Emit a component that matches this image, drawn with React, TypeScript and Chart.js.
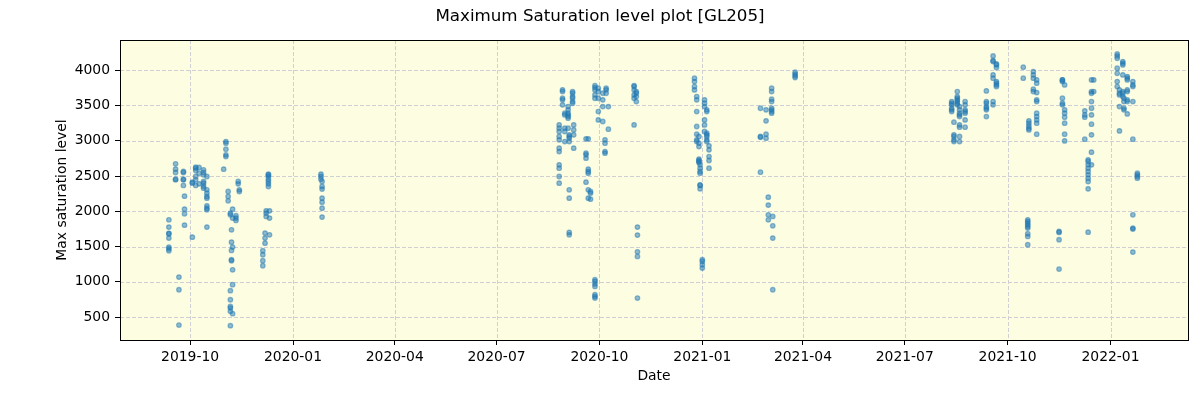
import React, { useEffect, useRef } from "react";
import { Chart, registerables } from "chart.js";

Chart.register(...registerables);

const TITLE = "Maximum Saturation level plot [GL205]";
const X_LABEL = "Date";
const Y_LABEL = "Max saturation level";

const X_MIN_DATE = "2019-07-30";
const X_MAX_DATE = "2022-03-11";
const Y_MIN = 174;
const Y_MAX = 4429;
const Y_TICKS = [500, 1000, 1500, 2000, 2500, 3000, 3500, 4000];
const X_TICK_DATES = [
  "2019-10-01", "2020-01-01", "2020-04-01", "2020-07-01", "2020-10-01",
  "2021-01-01", "2021-04-01", "2021-07-01", "2021-10-01", "2022-01-01",
];

type Night = [string, number[]];

const season2019: Night[] = [
  ["2019-09-12", [1879, 1775, 1685, 1681, 1619, 1492, 1468, 1440]],
  ["2019-09-18", [2673, 2597, 2550, 2455, 2446]],
  ["2019-09-21", [1066, 887, 386]],
  ["2019-09-25", [2564, 2550, 2446, 2455, 2366]],
  ["2019-09-26", [2214, 2030, 1964, 1803]],
  ["2019-10-03", [1633, 2399, 2413]],
  ["2019-10-06", [2625, 2611, 2578, 2493, 2446, 2366]],
  ["2019-10-09", [2621, 2540, 2389]],
  ["2019-10-13", [2588, 2550, 2517, 2422, 2399, 2355, 2328]],
  ["2019-10-16", [2493, 2304, 2257, 2210, 2186, 2077, 2044, 2021, 1775]],
  ["2019-10-31", [2597]],
  ["2019-11-02", [2989, 2965, 2880, 2800, 2776]],
  ["2019-11-04", [2280, 2210, 2148]],
  ["2019-11-06", [1973, 1950, 873, 745, 650, 627, 580, 377]],
  ["2019-11-07", [1737, 1562, 1444, 1312, 1298]],
  ["2019-11-08", [2030, 1903, 1492, 1170, 958, 547]],
  ["2019-11-11", [1936, 1903, 1870]],
  ["2019-11-13", [2422, 2389]],
  ["2019-11-14", [2304, 2280]],
  ["2019-12-05", [1440, 1383, 1298, 1227]],
  ["2019-12-07", [1690, 1619, 1548]],
  ["2019-12-08", [2006, 1973, 1926]],
  ["2019-12-10", [2526, 2517, 2493, 2455, 2422, 2389, 2351]],
  ["2019-12-11", [2006, 1903, 1666]],
  ["2020-01-26", [2526, 2493, 2455]],
  ["2020-01-27", [2422, 2351, 2314, 2186, 2129, 2044, 1917]],
];

const season2020: Night[] = [
  ["2020-08-26", [3225, 3178, 3131, 3060, 3013, 2895, 2847, 2658, 2611, 2493, 2399]],
  ["2020-08-29", [3721, 3698, 3603, 3580, 3509]],
  ["2020-08-31", [3391, 3367, 3178, 3131, 2989]],
  ["2020-09-03", [3485, 3438, 3391, 3367, 3343, 3320, 3178]],
  ["2020-09-04", [3084, 3060, 3036, 2989, 2304, 2186, 1700, 1666]],
  ["2020-09-07", [3698, 3674, 3627, 3603, 3556, 3532]],
  ["2020-09-08", [3225, 3154, 3084, 2895]],
  ["2020-09-19", [3027, 2824, 2800, 2753, 2413]],
  ["2020-09-21", [3027, 2597, 2564, 2540, 2304, 2186]],
  ["2020-09-23", [2280, 2257, 2172]],
  ["2020-09-27", [3783, 3754, 3721, 3650, 3603, 1029, 1005, 967, 934, 816, 792, 769]],
  ["2020-09-30", [3745, 3698, 3603, 3414, 3296]],
  ["2020-10-04", [3674, 3580, 3485, 3273]],
  ["2020-10-06", [3013, 2965, 2847, 2824]],
  ["2020-10-07", [3745, 3721, 3674]],
  ["2020-10-09", [3485, 3164]],
  ["2020-11-01", [3783, 3769, 3721, 3650, 3603, 3225]],
  ["2020-11-03", [3698, 3674, 3627, 3556]],
  ["2020-11-04", [1775, 1662, 1425, 1359, 769]],
  ["2020-12-25", [3887, 3839, 3769, 3721]],
  ["2020-12-27", [3627, 3580, 3414, 3202, 3093, 3013, 2989]],
  ["2020-12-29", [3060, 2965, 2918, 2739, 2720, 2706, 2691]],
  ["2020-12-30", [2658, 2611, 2564, 2540, 2375, 2366, 2318]],
  ["2021-01-01", [1312, 1288, 1241, 1194]],
  ["2021-01-03", [3580, 3532, 3485, 3296, 3225, 3131]],
  ["2021-01-05", [3438, 3414, 3107, 3084, 3060, 3013, 2989]],
  ["2021-01-07", [2928, 2871, 2776, 2720, 2611]],
  ["2021-02-22", [3461, 3060, 3050, 2554]],
  ["2021-02-27", [3438, 3282, 3093, 3036]],
  ["2021-03-01", [2200, 2087, 1950, 1879]],
  ["2021-03-04", [3745, 3698, 3589, 3556, 3461, 3438, 3414, 3391]],
  ["2021-03-05", [1926, 1794, 1619, 887]],
  ["2021-03-25", [3972, 3943, 3920, 3896]],
];

const season2021: Night[] = [
  ["2021-08-12", [3556, 3532, 3509, 3461, 3438, 3414]],
  ["2021-08-14", [3263, 3084, 3060, 3013, 2989]],
  ["2021-08-17", [3698, 3627, 3603, 3580, 3556, 3532, 3509]],
  ["2021-08-19", [3485, 3438, 3391, 3367, 3343, 3225, 3192, 3060, 2989]],
  ["2021-08-24", [3556, 3509, 3438, 3414, 3391, 3296, 3192]],
  ["2021-09-12", [3707, 3556, 3532, 3485, 3461, 3438, 3343]],
  ["2021-09-18", [4203, 4137, 4123, 3934, 3887, 3556, 3509]],
  ["2021-09-21", [4090, 4076, 4038, 3839, 3816, 3792, 3769]],
  ["2021-10-15", [4043, 3887]],
  ["2021-10-19", [1879, 1855, 1832, 1808, 1784, 1761, 1681, 1643, 1525]],
  ["2021-10-20", [3282, 3249, 3211, 3178, 3154]],
  ["2021-10-24", [3981, 3934, 3887, 3731, 3698]],
  ["2021-10-27", [3863, 3816, 3683, 3580, 3556, 3391, 3343, 3296, 3249, 3093]],
  ["2021-11-16", [1714, 1700, 1596, 1180]],
  ["2021-11-19", [3863, 3863, 3839, 3603, 3532, 3509]],
  ["2021-11-21", [3792, 3438, 3391, 3334, 3249, 3093, 2998]],
  ["2021-12-09", [3424, 3367, 3334, 3022]],
  ["2021-12-12", [2729, 2706, 2658, 2611, 2564, 2517, 2469, 2422, 2318, 1704]],
  ["2021-12-15", [3863, 3698, 3674, 3556, 3461, 3367, 3235, 3084, 2838, 2658]],
  ["2021-12-17", [3863, 3698]],
  ["2022-01-07", [4231, 4203, 4170, 4028, 3957, 3839, 3769]],
  ["2022-01-09", [3721, 3674, 3650, 3485, 3140]],
  ["2022-01-12", [4123, 4099, 4076, 3934, 3698, 3674, 3627]],
  ["2022-01-13", [3603, 3556, 3461, 3438]],
  ["2022-01-16", [3910, 3887, 3863, 3721, 3698, 3580, 3556, 3381]],
  ["2022-01-21", [3839, 3792, 3769, 3556, 3022, 1950, 1761, 1747, 1421]],
  ["2022-01-25", [2540, 2517, 2493, 2469]],
];

const FONT = "'DejaVu Sans', 'Liberation Sans', sans-serif";
const POINT_COLOR = "rgba(31, 119, 180, 0.5)";
const PLOT_BG = "#fdfde2";
const GRID_COLOR = "#cfcfd4";

function toDay(s: string): number {
  const [y, m, d] = s.split("-").map(Number);
  return Date.UTC(y, m - 1, d) / 86400000;
}

function dayLabel(v: number): string {
  const dt = new Date(Math.round(v) * 86400000);
  const y = dt.getUTCFullYear();
  const m = String(dt.getUTCMonth() + 1).padStart(2, "0");
  return `${y}-${m}`;
}

const points = [...season2019, ...season2020, ...season2021].flatMap(([date, vals]) =>
  vals.map((v) => ({ x: toDay(date), y: v }))
);

const decorPlugin = {
  id: "decor",
  beforeDatasetsDraw(chart: any) {
    const { ctx, chartArea: a, scales } = chart;
    ctx.save();
    ctx.fillStyle = PLOT_BG;
    ctx.fillRect(a.left, a.top, a.right - a.left, a.bottom - a.top);
    ctx.strokeStyle = GRID_COLOR;
    ctx.lineWidth = 1;
    ctx.setLineDash([4, 2]);
    for (const t of scales.x.ticks) {
      const px = Math.round(scales.x.getPixelForValue(t.value)) + 0.5;
      ctx.beginPath();
      ctx.moveTo(px, a.top);
      ctx.lineTo(px, a.bottom);
      ctx.stroke();
    }
    for (const t of scales.y.ticks) {
      const py = Math.round(scales.y.getPixelForValue(t.value)) + 0.5;
      ctx.beginPath();
      ctx.moveTo(a.left, py);
      ctx.lineTo(a.right, py);
      ctx.stroke();
    }
    ctx.restore();
  },
  afterDatasetsDraw(chart: any) {
    const { ctx, chartArea: a } = chart;
    ctx.save();
    ctx.strokeStyle = "#000";
    ctx.lineWidth = 1;
    ctx.strokeRect(Math.round(a.left) + 0.5, Math.round(a.top) + 0.5, Math.round(a.right - a.left), Math.round(a.bottom - a.top));
    ctx.fillStyle = "#000";
    ctx.font = `16.7px ${FONT}`;
    ctx.textAlign = "center";
    ctx.textBaseline = "middle";
    ctx.fillText(TITLE, 600, 17);
    ctx.restore();
  },
};

export default function App() {
  const ref = useRef<HTMLCanvasElement>(null);
  useEffect(() => {
    document.body.style.margin = "0";
    const chart = new Chart(ref.current as HTMLCanvasElement, {
      type: "scatter",
      data: {
        datasets: [
          {
            data: points,
            backgroundColor: POINT_COLOR,
            borderColor: POINT_COLOR,
            borderWidth: 1.2,
            pointRadius: 2.3,
          },
        ],
      },
      options: {
        animation: false,
        responsive: false,
        devicePixelRatio: 1,
        events: [],
        layout: { padding: { top: 40, right: 12, left: 0, bottom: 0 } },
        plugins: { legend: { display: false }, tooltip: { enabled: false }, title: { display: false } },
        scales: {
          x: {
            type: "linear",
            min: toDay(X_MIN_DATE) + 0.3,
            max: toDay(X_MAX_DATE) + 0.3,
            afterBuildTicks: (s: any) => {
              s.ticks = X_TICK_DATES.map((d) => ({ value: toDay(d) }));
            },
            afterFit: (s: any) => {
              s.height = 60;
            },
            ticks: {
              callback: (v: any) => dayLabel(Number(v)),
              autoSkip: false,
              maxRotation: 0,
              color: "#000",
              padding: 4,
              font: { family: FONT, size: 13.9 },
            },
            grid: { drawOnChartArea: false, drawTicks: true, tickLength: 5, tickColor: "#000", tickWidth: 1 },
            border: { display: false },
            title: {
              display: true,
              text: X_LABEL,
              color: "#000",
              font: { family: FONT, size: 13.9 },
              padding: { top: 0, bottom: 15 },
            },
          },
          y: {
            type: "linear",
            min: Y_MIN,
            max: Y_MAX,
            afterBuildTicks: (s: any) => {
              s.ticks = Y_TICKS.map((v) => ({ value: v }));
            },
            afterFit: (s: any) => {
              s.width = 120;
            },
            ticks: {
              color: "#000",
              padding: 5,
              font: { family: FONT, size: 13.9 },
              callback: (v: any) => String(v),
            },
            grid: { drawOnChartArea: false, drawTicks: true, tickLength: 5, tickColor: "#000", tickWidth: 1 },
            border: { display: false },
            title: {
              display: true,
              text: Y_LABEL,
              color: "#000",
              font: { family: FONT, size: 13.9 },
              padding: { top: 54, bottom: 0 },
            },
          },
        },
      },
      plugins: [decorPlugin],
    });
    return () => chart.destroy();
  }, []);
  return (
    <div style={{ width: 1200, height: 400 }}>
      <canvas ref={ref} width={1200} height={400} style={{ display: "block" }} />
    </div>
  );
}
